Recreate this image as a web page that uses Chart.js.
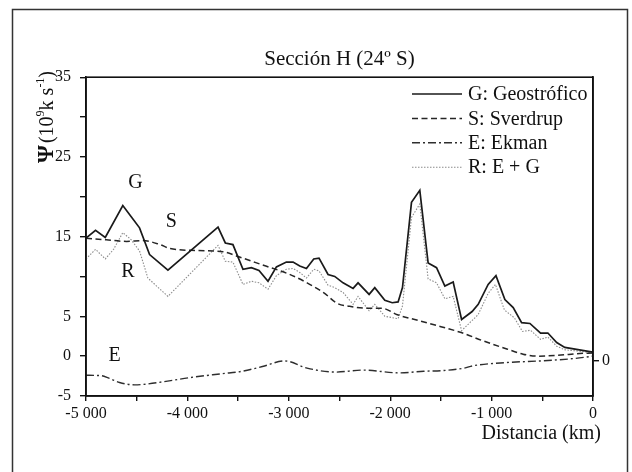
<!DOCTYPE html>
<html>
<head>
<meta charset="utf-8">
<script src="https://cdn.jsdelivr.net/npm/chart.js@4"></script>
<style>
  html, body { margin: 0; padding: 0; background: #fff; }
  canvas { display: block; }
</style>
</head>
<body>
<canvas id="psiChart" width="632" height="472"></canvas>
<script>
// Sección H (24º S) - funcion de corriente por componentes
const gDist = [-5000, -4906, -4810, -4637, -4554, -4472, -4373, -4192, -3698, -3626, -3551, -3452, -3369, -3294,
  -3205, -3122, -3024, -2958, -2892, -2826, -2754, -2702, -2613, -2547, -2465, -2366, -2317, -2208, -2152,
  -2053, -1980, -1922, -1879, -1790, -1708, -1626, -1543, -1461, -1379, -1296, -1192, -1132, -1034, -957,
  -869, -787, -704, -622, -517, -445, -358, -278, -119, 0];
const gVal = [14.8, 15.8, 14.9, 18.9, 17.5, 16.1, 12.75, 10.8, 16.2, 14.2, 14.0, 10.9, 11.1, 10.75,
  9.4, 11.2, 11.8, 11.8, 11.3, 11.0, 12.2, 12.3, 10.25, 10.0, 9.2, 8.5, 9.2, 7.75, 8.6,
  7.0, 6.7, 6.8, 8.6, 19.3, 20.8, 11.7, 11.1, 8.8, 9.3, 4.6, 5.6, 6.5, 9.0, 10.1,
  7.1, 6.1, 4.2, 4.1, 2.9, 2.9, 1.7, 1.1, 0.75, 0.5];

const rDist = [-5000, -4906, -4810, -4728, -4637, -4554, -4472, -4390, -4192, -3698, -3626, -3551, -3452, -3369,
  -3294, -3205, -3122, -3024, -2958, -2892, -2826, -2754, -2702, -2613, -2547, -2465, -2366, -2317, -2208,
  -2152, -2053, -1922, -1879, -1790, -1708, -1626, -1543, -1461, -1379, -1296, -1133, -1033, -962, -874,
  -775, -696, -616, -517, -445, -358, -278, -119, 0];
const rVal = [12.2, 13.4, 12.2, 13.4, 15.5, 14.6, 13.2, 9.8, 7.5, 13.9, 11.9, 11.8, 9.0, 9.4,
  9.2, 8.4, 10.1, 10.9, 11.0, 10.5, 9.8, 10.9, 10.7, 8.9, 8.6, 8.0, 6.5, 7.5, 5.7,
  6.5, 5.0, 4.7, 6.3, 17.4, 19.1, 9.7, 9.2, 7.2, 7.5, 3.2, 5.2, 7.9, 9.0, 5.8,
  4.8, 3.1, 3.25, 2.1, 2.4, 1.25, 0.8, 0.6, 0.4];

const sDist = [-5000, -4800, -4600, -4440, -4270, -4170, -3900, -3650, -3500, -3250, -3000, -2820, -2650, -2520,
  -2400, -2200, -2080, -1930, -1700, -1500, -1300, -1080, -850, -690, -550, -350, -130, 0];
const sVal = [14.8, 14.6, 14.4, 14.5, 14.0, 13.5, 13.25, 13.1, 12.5, 11.4, 10.3, 9.2, 7.9, 6.6,
  6.25, 6.0, 6.0, 5.2, 4.4, 3.7, 2.96, 1.9, 0.9, 0.25, 0.0, 0.1, 0.33, 0.4];

const eDist = [-5000, -4850, -4770, -4670, -4520, -4400, -4180, -3980, -3660, -3460, -3260, -3040, -2820, -2540,
  -2270, -1910, -1670, -1470, -1270, -1180, -850, -520, -190, 0];
const eVal = [-2.4, -2.45, -2.8, -3.3, -3.6, -3.5, -3.1, -2.7, -2.2, -1.9, -1.3, -0.6, -1.5, -2.0,
  -1.75, -2.1, -1.9, -1.8, -1.5, -1.2, -0.8, -0.6, -0.3, 0.0];

const seriesNames = ['G: Geostrófico', 'S: Sverdrup', 'E: Ekman', 'R: E + G'];
const yTickLabels = [35, 25, 15, 5, 0, -5];
const curveLetters = [
  { text: 'G', x: -4511, y: 21.8 },
  { text: 'S', x: -4159, y: 16.9 },
  { text: 'R', x: -4587, y: 10.6 },
  { text: 'E', x: -4718, y: 0 }
];

const SERIF = '"Liberation Serif", "DejaVu Serif", serif';

function toPoints(xs, ys) {
  return xs.map((x, i) => ({ x: x, y: ys[i] }));
}

// frame, plot box, legend, letters and axis titles
const decorPlugin = {
  id: 'decor',
  beforeDraw(chart) {
    const c = chart.ctx;
    c.save();
    c.fillStyle = '#fff';
    c.fillRect(0, 0, chart.width, chart.height);
    c.strokeStyle = '#333';
    c.lineWidth = 1.5;
    c.beginPath();
    c.moveTo(12.5, 472);
    c.lineTo(12.5, 9.5);
    c.lineTo(627.5, 9.5);
    c.lineTo(627.5, 472);
    c.stroke();
    c.restore();
  },
  afterDraw(chart) {
    const c = chart.ctx;
    const a = chart.chartArea;
    const sx = chart.scales.x, sy = chart.scales.y;
    c.save();

    // plot box
    c.strokeStyle = '#111';
    c.lineWidth = 1.6;
    c.strokeRect(a.left, a.top, a.right - a.left, a.bottom - a.top);

    // legend
    c.font = '20px ' + SERIF;
    c.fillStyle = '#111';
    c.textBaseline = 'middle';
    chart.data.datasets.forEach((ds, i) => {
      const y = 94 + i * 24.4;
      c.strokeStyle = ds.borderColor;
      c.lineWidth = ds.borderWidth;
      c.setLineDash(ds.borderDash || []);
      c.beginPath();
      c.moveTo(412, y);
      c.lineTo(462, y);
      c.stroke();
      c.setLineDash([]);
      c.fillText(ds.label, 468, y + 1);
    });

    // curve letters
    c.textAlign = 'center';
    c.font = '20px ' + SERIF;
    curveLetters.forEach(l => {
      c.fillText(l.text, sx.getPixelForValue(l.x), sy.getPixelForValue(l.y));
    });

    // x axis title
    c.textAlign = 'right';
    c.font = '20px ' + SERIF;
    c.fillText('Distancia (km)', 601, 434);

    // y axis title, rotated
    c.translate(53, 163);
    c.rotate(-Math.PI / 2);
    c.textAlign = 'left';
    c.textBaseline = 'alphabetic';
    let px = 0;
    const parts = [
      { t: 'Ψ', f: 'bold 23px ' + SERIF, dy: 0 },
      { t: '(10', f: '20px ' + SERIF, dy: 0 },
      { t: '9', f: '12px ' + SERIF, dy: -9 },
      { t: 'k s', f: '20px ' + SERIF, dy: 0 },
      { t: '-1', f: '12px ' + SERIF, dy: -9 },
      { t: ')', f: '20px ' + SERIF, dy: 0 }
    ];
    parts.forEach(p => {
      c.font = p.f;
      c.fillText(p.t, px, p.dy);
      px += c.measureText(p.t).width + (p.t === 'Ψ' ? 2 : 0);
    });
    c.restore();
  }
};

const ctx = document.getElementById('psiChart').getContext('2d');
const psiChart = new Chart(ctx, {
  type: 'line',
  data: {
    datasets: [
      {
        label: seriesNames[0],
        data: toPoints(gDist, gVal),
        borderColor: '#1a1a1a',
        borderWidth: 1.7,
        pointRadius: 0,
        tension: 0
      },
      {
        label: seriesNames[1],
        data: toPoints(sDist, sVal),
        borderColor: '#262626',
        borderWidth: 1.5,
        borderDash: [6, 3.5],
        pointRadius: 0,
        cubicInterpolationMode: 'monotone'
      },
      {
        label: seriesNames[2],
        data: toPoints(eDist, eVal),
        borderColor: '#2e2e2e',
        borderWidth: 1.4,
        borderDash: [8, 3, 2, 3],
        pointRadius: 0,
        cubicInterpolationMode: 'monotone'
      },
      {
        label: seriesNames[3],
        data: toPoints(rDist, rVal),
        borderColor: '#8c8c8c',
        borderWidth: 1.1,
        borderDash: [1.5, 1.5],
        pointRadius: 0,
        tension: 0
      }
    ]
  },
  options: {
    responsive: false,
    animation: false,
    layout: { padding: 0 },
    scales: {
      x: {
        type: 'linear',
        position: 'bottom',
        min: -5000,
        max: 0,
        border: { display: true, color: '#111', width: 1.6 },
        grid: { drawOnChartArea: false, drawTicks: true, tickLength: 5, color: '#111', lineWidth: 1.4 },
        ticks: {
          stepSize: 500,
          autoSkip: false,
          maxRotation: 0,
          padding: 3,
          color: '#111',
          font: { family: SERIF, size: 16 },
          callback: v => {
            if (v % 1000 !== 0) return '';
            if (v === 0) return '0';
            return '-' + Math.abs(v / 1000) + ' 000';
          }
        },
        afterFit: axis => { axis.height = 76; }
      },
      y: {
        position: 'left',
        min: -5,
        max: 35,
        border: { display: true, color: '#111', width: 1.6 },
        grid: { drawOnChartArea: false, drawTicks: true, tickLength: 6, color: '#111', lineWidth: 1.4 },
        ticks: {
          stepSize: 5,
          autoSkip: false,
          padding: 9,
          color: '#111',
          font: { family: SERIF, size: 16 },
          callback: v => yTickLabels.includes(v) ? String(v) : ''
        },
        afterFit: axis => { axis.width = 86; }
      },
      y2: {
        position: 'right',
        min: -4.375,
        max: 35.625,
        border: { display: true, color: '#111', width: 1.6 },
        grid: { drawOnChartArea: false, drawTicks: true, tickLength: 6, color: '#111', lineWidth: 1.4 },
        ticks: {
          padding: 3,
          color: '#111',
          font: { family: SERIF, size: 16 },
          callback: v => String(v)
        },
        afterBuildTicks: axis => { axis.ticks = [{ value: 0 }]; },
        afterFit: axis => { axis.width = 39; }
      }
    },
    plugins: {
      legend: { display: false },
      tooltip: { enabled: false },
      title: {
        display: true,
        text: 'Sección H (24º S)',
        fullSize: false,
        color: '#111',
        font: { family: SERIF, size: 21, weight: 'normal' },
        padding: { top: 47, bottom: 5 }
      }
    }
  },
  plugins: [decorPlugin]
});
</script>
</body>
</html>
